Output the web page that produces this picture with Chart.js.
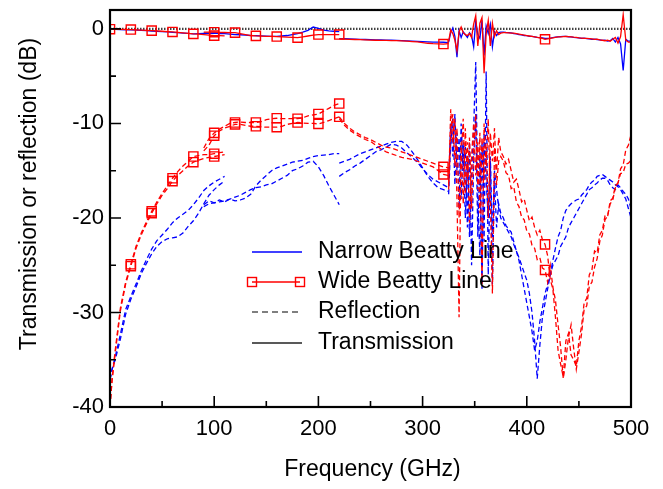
<!DOCTYPE html>
<html><head><meta charset="utf-8">
<script src="https://cdn.jsdelivr.net/npm/chart.js@4.4.1/dist/chart.umd.min.js"></script>
<style>html,body{margin:0;padding:0;background:#fff;}canvas{display:block;}</style>
</head><body>
<canvas id="c" width="663" height="489"></canvas>
<script>
// ---- tick labels ----
const xTickLabels = [0, 100, 200, 300, 400, 500];
const yTickLabels = [-40, -30, -20, -10, 0];
const xMinorTicks = [50, 150, 250, 350, 450];
const yMinorTicks = [-35, -25, -15, -5];

// ---- frequency grids (GHz) for each measurement band ----
const fA = [0,2,5,10,15,20,25,30,35,40,45,50,55,60,65,70,75,80,85,90,95,100,105,110];
const fB = [90,95,100,105,110,115,120,125,130,135,140,145,150,155,160,165,170,175,180,185,190,195,200,205,210,215,220];
const fC = [220,225,230,235,240,245,250,255,260,265,270,275,280,285,290,295,300,305,310,315,320,325];
const fD = [325,327,329,331,333,335,337,339,341,343,345,347,349,351,353,355,357,359,361,363,365,367,369,371,373,375,
  377.5,380,382.5,385,387.5,390,392.5,395,397.5,400,
  402.5,405,407.5,410,412.5,415,417.5,420,422.5,425,
  427.5,430,432.5,435,437.5,440,442.5,445,447.5,450,
  452.5,455,457.5,460,462.5,465,467.5,470,472.5,475,
  477.5,480,482.5,485,487.5,490,492.5,495,497.5,500];

// ---- Wide Beatty line: transmission (dB) ----
const wideTransA = [-0.03,-0.03,-0.04,-0.05,-0.06,-0.07,-0.10,-0.12,-0.15,-0.18,-0.21,-0.25,-0.28,-0.32,-0.36,-0.42,-0.47,-0.53,-0.55,-0.60,-0.65,-0.71,-0.72,-0.74];
const wideTransB = [-0.35,-0.35,-0.35,-0.37,-0.38,-0.39,-0.39,-0.50,-0.60,-0.70,-0.74,-0.76,-0.78,-0.80,-0.81,-0.84,-0.87,-0.90,-0.92,-0.85,-0.75,-0.65,-0.60,-0.60,-0.60,-0.60,-0.60];
const wideTransC = [-1.06,-1.08,-1.10,-1.12,-1.14,-1.16,-1.18,-1.20,-1.21,-1.22,-1.23,-1.24,-1.27,-1.30,-1.34,-1.38,-1.45,-1.52,-1.56,-1.58,-1.60,-1.55];
const wideTransD = [-1.3,-0.1,-0.5,-1.2,-2.3,-0.3,0.2,-0.4,-0.6,-0.7,-0.5,-0.9,0.5,1.4,-1.8,0.6,1.2,-4.7,-0.5,0.9,-1.8,0.6,-0.8,-0.2,-0.6,-0.45,
  -0.4,-0.4,-0.42,-0.45,-0.45,-0.5,-0.55,-0.6,-0.65,-0.7,
  -0.75,-0.8,-0.85,-0.9,-0.95,-1.0,-1.1,-1.05,-1.0,-0.95,
  -0.9,-0.85,-0.85,-0.82,-0.8,-0.82,-0.85,-0.88,-0.9,-0.95,
  -0.97,-1.0,-1.0,-1.02,-1.05,-1.1,-1.08,-1.15,-1.2,-1.25,
  -1.2,-1.3,-1.1,-0.9,-1.5,-0.8,1.5,-1.2,-1.4,-1.4];

// ---- Wide Beatty line: reflection (dB) ----
const wideReflA1 = [-40,-37,-34,-29.5,-26.8,-24.9,-23.0,-21.6,-20.4,-19.3,-18.3,-17.4,-16.6,-15.8,-15.1,-14.5,-14.0,-13.5,-13.4,-13.3,-13.3,-13.2,-13.1,-13.0];
const wideReflA2 = [-40,-37.2,-34.3,-29.8,-27.0,-25.1,-23.2,-21.8,-20.6,-19.5,-18.5,-17.6,-16.9,-16.1,-15.5,-15.0,-14.5,-14.1,-13.9,-13.7,-13.6,-13.5,-13.4,-13.3];
const wideReflB1 = [-12.6,-11.6,-11.0,-10.6,-10.3,-10.0,-9.9,-9.85,-9.9,-9.9,-9.9,-9.8,-9.6,-9.5,-9.45,-9.5,-9.5,-9.5,-9.5,-9.4,-9.2,-9.1,-9.0,-8.7,-8.4,-8.1,-7.9];
const wideReflB2 = [-12.9,-12.3,-11.3,-10.8,-10.5,-10.3,-10.1,-10.1,-10.2,-10.3,-10.3,-10.35,-10.4,-10.4,-10.4,-10.3,-10.1,-10.0,-9.9,-9.95,-10.0,-10.0,-10.05,-9.9,-9.7,-9.5,-9.3];
const wideReflC1 = [-9.3,-10.0,-10.5,-10.9,-11.2,-11.5,-11.7,-12.0,-12.3,-12.5,-12.6,-12.8,-13.0,-13.2,-13.4,-13.6,-13.8,-14.0,-14.2,-14.4,-14.6,-14.7];
const wideReflC2 = [-9.5,-10.2,-10.7,-11.1,-11.4,-11.7,-11.9,-12.3,-12.7,-13.0,-13.2,-13.4,-13.6,-13.7,-13.8,-14.0,-14.2,-14.4,-14.6,-15.0,-15.4,-15.5];
const wideReflD1 = [-16.5,-8.5,-12.0,-9.5,-18.0,-30.5,-12.0,-18.5,-10.5,-16.0,-11.5,-19.0,-13.0,-9.0,-17.0,-11.0,-27.0,-10.0,-14.5,-9.5,-18.0,-28.0,-12.5,-15.0,-11.5,-13.0,
  -13.5,-14.3,-13.8,-15.0,-16.2,-15.9,-17.0,-18.3,-18.0,-19.2,
  -20.3,-19.9,-21.0,-21.8,-21.3,-22.3,-22.8,-24.0,-26.5,-27.5,
  -30.5,-34.0,-35.5,-36.8,-33.0,-32.2,-34.5,-35.0,-35.7,-33.0,
  -31.5,-29.0,-28.5,-26.0,-25.5,-23.5,-23.7,-21.8,-21.3,-19.8,
  -19.9,-18.2,-17.9,-16.6,-16.3,-14.8,-14.4,-12.8,-12.3,-11.2];
const wideReflD2 = [-17.0,-11.0,-9.0,-14.5,-10.5,-20.0,-13.5,-9.5,-17.5,-12.0,-20.5,-13.5,-10.0,-15.5,-12.0,-19.5,-11.5,-16.0,-12.5,-20.0,-11.0,-14.0,-10.5,-16.5,-14.0,-13.5,
  -14.0,-15.2,-15.5,-16.9,-16.7,-18.3,-18.8,-19.9,-20.2,-21.4,
  -21.7,-22.9,-23.2,-24.4,-24.2,-25.3,-25.5,-26.8,-25.0,-27.3,
  -28.7,-31.3,-33.7,-37.0,-35.0,-32.6,-31.3,-33.8,-36.0,-34.2,
  -32.3,-29.7,-29.3,-27.2,-26.8,-25.2,-24.3,-22.5,-21.8,-20.2,
  -19.8,-18.5,-18.1,-16.8,-16.3,-15.3,-15.2,-14.3,-14.2,-13.9];

// ---- Narrow Beatty line: transmission (dB) ----
const narrowTransA = [-0.02,-0.03,-0.05,-0.07,-0.09,-0.11,-0.13,-0.16,-0.19,-0.22,-0.26,-0.29,-0.32,-0.36,-0.40,-0.44,-0.48,-0.52,-0.50,-0.48,-0.47,-0.46,-0.45,-0.45];
const narrowTransB = [-0.45,-0.45,-0.45,-0.50,-0.50,-0.55,-0.60,-0.62,-0.65,-0.70,-0.72,-0.74,-0.76,-0.78,-0.80,-0.75,-0.70,-0.60,-0.50,-0.35,-0.15,0.20,0.05,-0.12,-0.20,-0.25,-0.28];
const narrowTransC = [-1.02,-1.04,-1.06,-1.08,-1.10,-1.12,-1.14,-1.15,-1.17,-1.19,-1.20,-1.22,-1.24,-1.26,-1.29,-1.31,-1.34,-1.37,-1.39,-1.40,-1.41,-1.45];
const narrowTransD = [-1.4,-0.4,0.1,-0.8,-3.0,-0.2,-0.9,-0.3,-0.6,-0.9,-0.4,-0.7,-1.9,0.8,-0.6,-1.0,0.9,-2.8,0.3,-0.5,0.5,-1.9,-0.3,-0.7,-0.4,-0.35,
  -0.35,-0.38,-0.4,-0.42,-0.5,-0.52,-0.6,-0.62,-0.7,-0.72,
  -0.78,-0.8,-0.85,-0.9,-0.92,-0.95,-1.0,-1.0,-0.98,-0.92,
  -0.88,-0.85,-0.82,-0.8,-0.8,-0.83,-0.85,-0.9,-0.92,-0.95,
  -1.0,-0.98,-1.02,-1.05,-1.1,-1.08,-1.12,-1.15,-1.22,-1.2,
  -1.3,-1.25,-1.0,-1.4,-0.9,-1.6,-4.4,-1.1,-1.3,-1.3];

// ---- Narrow Beatty line: reflection (dB) ----
const narrowReflA1 = [-37.1,-36.0,-34.7,-32.3,-29.7,-28.3,-27.0,-25.6,-24.4,-23.3,-22.4,-21.8,-21.2,-20.5,-20.0,-19.6,-19.2,-18.6,-17.9,-17.1,-16.6,-16.2,-15.9,-15.6];
const narrowReflA2 = [-37.1,-36.0,-35.0,-32.8,-30.2,-28.6,-27.3,-25.9,-24.8,-23.8,-23.0,-22.5,-22.2,-22.1,-22.0,-21.6,-20.9,-20.3,-19.5,-18.5,-17.6,-17.0,-16.5,-16.1];
const narrowReflB1 = [-18.6,-18.2,-18.4,-18.1,-18.3,-18.0,-18.2,-18.1,-17.9,-17.5,-16.6,-16.0,-15.5,-15.0,-14.7,-14.5,-14.3,-14.1,-14.0,-13.9,-13.7,-13.5,-13.4,-13.35,-13.3,-13.2,-13.2];
const narrowReflB2 = [-18.8,-18.5,-18.4,-18.3,-18.2,-18.0,-17.8,-17.6,-17.3,-17.0,-16.8,-16.7,-16.5,-16.4,-16.1,-15.8,-15.5,-15.0,-14.8,-14.5,-14.1,-14.0,-14.6,-15.5,-16.6,-17.6,-18.6];
const narrowReflC1 = [-14.2,-14.0,-13.8,-13.5,-13.2,-13.0,-12.8,-12.6,-12.4,-12.2,-12.0,-11.9,-11.9,-12.3,-13.0,-13.8,-14.7,-15.6,-16.3,-16.8,-17.0,-17.2];
const narrowReflC2 = [-15.6,-15.2,-14.9,-14.5,-14.2,-13.8,-13.4,-13.0,-12.8,-12.5,-12.2,-12.3,-12.6,-13.1,-13.6,-14.1,-14.8,-15.4,-15.9,-16.2,-16.5,-16.8];
const narrowReflD1 = [-16.0,-10.0,-13.5,-9.0,-15.0,-11.5,-18.0,-12.0,-20.0,-14.0,-22.0,-15.5,-10.5,-3.5,-18.0,-24.0,-12.0,-22.5,-4.5,-26.0,-14.0,-27.0,-16.0,-21.0,-18.5,-19.5,
  -20.0,-20.8,-21.2,-21.5,-22.5,-23.5,-24.2,-25.0,-25.8,-26.6,
  -28.0,-30.0,-33.0,-37.0,-33.5,-30.5,-29.0,-27.5,-26.0,-24.5,
  -23.2,-22.0,-21.3,-20.0,-19.2,-18.8,-18.5,-18.3,-18.1,-18.0,
  -17.6,-17.3,-17.0,-16.5,-16.2,-16.0,-15.6,-15.5,-15.4,-15.6,
  -15.8,-16.0,-16.2,-16.5,-16.7,-17.0,-17.5,-18.0,-19.0,-20.0];
const narrowReflD2 = [-17.5,-12.0,-9.5,-16.5,-11.0,-19.0,-10.0,-15.0,-12.5,-21.0,-12.0,-25.0,-14.0,-9.0,-22.0,-13.0,-27.5,-11.0,-16.0,-20.0,-13.5,-22.0,-15.0,-17.0,-19.0,-20.0,
  -20.5,-21.0,-21.5,-22.0,-22.8,-23.5,-24.5,-26.0,-27.5,-29.0,
  -30.5,-32.0,-34.0,-33.0,-31.0,-29.5,-28.0,-27.0,-26.0,-25.0,
  -24.5,-24.0,-23.0,-22.5,-22.0,-21.0,-20.5,-20.0,-19.5,-19.0,
  -18.5,-18.0,-17.5,-17.0,-16.8,-16.5,-16.3,-16.0,-15.8,-15.8,
  -16.0,-16.5,-16.8,-17.0,-16.5,-16.8,-17.2,-17.5,-18.0,-19.0];

// ---- zero reference ----
const zeroF = [0, 500];
const zeroV = [0, 0];

// ---- marker positions (GHz) on Wide Beatty line curves ----
const markTransA = [0,20,40,60,80,100];
const markReflA = [20,40,60,80,100];
const markB = [100,120,140,160,180,200,220];
const markC = [320];
const markD = [417.5];

const legendLabels = ['Narrow Beatty Line', 'Wide Beatty Line', 'Reflection', 'Transmission'];

const RED = '#ff0000', BLUE = '#0000ff';
const FONT = '"Liberation Sans", Arial, sans-serif';

function ds(fs, vs, color, dashed, marks) {
  return {
    data: fs.map((f, i) => ({ x: f, y: vs[i] })),
    borderColor: color,
    borderWidth: 1.3,
    borderDash: dashed ? [5, 3] : [],
    pointStyle: 'rect',
    pointRadius: ctx => (marks && ctx.raw && marks.includes(ctx.raw.x)) ? 6.5 : 0,
    pointBorderColor: color,
    pointBackgroundColor: 'rgba(0,0,0,0)',
    pointBorderWidth: 1.4,
    pointHoverRadius: 0,
    tension: 0,
    fill: false
  };
}

const datasets = [
  ds(fA, wideTransA, RED, false, markTransA),
  ds(fB, wideTransB, RED, false, markB),
  ds(fC, wideTransC, RED, false, markC),
  ds(fD, wideTransD, RED, false, markD),
  ds(fA, wideReflA1, RED, true, markReflA),
  ds(fA, wideReflA2, RED, true, markReflA),
  ds(fB, wideReflB1, RED, true, markB),
  ds(fB, wideReflB2, RED, true, markB),
  ds(fC, wideReflC1, RED, true, markC),
  ds(fC, wideReflC2, RED, true, markC),
  ds(fD, wideReflD1, RED, true, markD),
  ds(fD, wideReflD2, RED, true, markD),
  ds(fA, narrowTransA, BLUE, false, null),
  ds(fB, narrowTransB, BLUE, false, null),
  ds(fC, narrowTransC, BLUE, false, null),
  ds(fD, narrowTransD, BLUE, false, null),
  ds(fA, narrowReflA1, BLUE, true, null),
  ds(fA, narrowReflA2, BLUE, true, null),
  ds(fB, narrowReflB1, BLUE, true, null),
  ds(fB, narrowReflB2, BLUE, true, null),
  ds(fC, narrowReflC1, BLUE, true, null),
  ds(fC, narrowReflC2, BLUE, true, null),
  ds(fD, narrowReflD1, BLUE, true, null),
  ds(fD, narrowReflD2, BLUE, true, null),
  Object.assign(ds(zeroF, zeroV, 'rgba(30,30,30,0.85)', false, null), { borderWidth: 2.4, borderDash: [1.5, 1.5] })
];

const decor = {
  id: 'decor',
  afterDraw(chart) {
    const ctx = chart.ctx, a = chart.chartArea;
    const xs = chart.scales.x, ys = chart.scales.y;
    ctx.save();
    // ticks (inward)
    ctx.strokeStyle = '#000'; ctx.lineWidth = 1.6;
    ctx.beginPath();
    xTickLabels.forEach(v => { const p = xs.getPixelForValue(v); ctx.moveTo(p, a.bottom); ctx.lineTo(p, a.bottom - 11); });
    xMinorTicks.forEach(v => { const p = xs.getPixelForValue(v); ctx.moveTo(p, a.bottom); ctx.lineTo(p, a.bottom - 6); });
    yTickLabels.forEach(v => { const p = ys.getPixelForValue(v); ctx.moveTo(a.left, p); ctx.lineTo(a.left + 11, p); });
    yMinorTicks.forEach(v => { const p = ys.getPixelForValue(v); ctx.moveTo(a.left, p); ctx.lineTo(a.left + 6, p); });
    ctx.stroke();
    // frame
    ctx.lineWidth = 2.2;
    ctx.strokeRect(a.left, a.top, a.right - a.left, a.bottom - a.top);
    // axis titles
    ctx.fillStyle = '#000';
    ctx.font = '23px ' + FONT;
    ctx.textAlign = 'center'; ctx.textBaseline = 'middle';
    ctx.fillText('Frequency (GHz)', (a.left + a.right) / 2 + 2, 470);
    ctx.save();
    ctx.translate(30, 194); ctx.rotate(-Math.PI / 2);
    ctx.fillText('Transmission or reflection (dB)', 0, 0);
    ctx.restore();
    // legend
    const rows = [252, 282, 312, 343];
    const x0 = 252, x1 = 302, tx = 318;
    ctx.textAlign = 'left';
    ctx.setLineDash([]); ctx.lineWidth = 1.4; ctx.strokeStyle = BLUE;
    ctx.beginPath(); ctx.moveTo(x0, rows[0]); ctx.lineTo(x1, rows[0]); ctx.stroke();
    ctx.strokeStyle = RED;
    ctx.beginPath(); ctx.moveTo(x0, rows[1]); ctx.lineTo(x1 - 2, rows[1]); ctx.stroke();
    ctx.strokeRect(x0 - 4.5, rows[1] - 4.5, 9, 9);
    ctx.strokeRect(x1 - 2 - 4.5, rows[1] - 4.5, 9, 9);
    ctx.strokeStyle = '#555'; ctx.setLineDash([6, 4]);
    ctx.beginPath(); ctx.moveTo(x0, rows[2]); ctx.lineTo(x1, rows[2]); ctx.stroke();
    ctx.strokeStyle = '#222'; ctx.setLineDash([]);
    ctx.beginPath(); ctx.moveTo(x0, rows[3]); ctx.lineTo(x1, rows[3]); ctx.stroke();
    ctx.fillStyle = '#000';
    legendLabels.forEach((t, i) => ctx.fillText(t, tx, rows[i]));
    ctx.restore();
  }
};

function noPad(s) { s.paddingTop = 0; s.paddingBottom = 0; s.paddingLeft = 0; s.paddingRight = 0; }

new Chart(document.getElementById('c'), {
  type: 'line',
  data: { datasets },
  options: {
    responsive: false,
    animation: false,
    events: [],
    layout: { padding: { top: 10, right: 32, left: 0, bottom: 0 } },
    plugins: { legend: { display: false }, tooltip: { enabled: false } },
    scales: {
      x: {
        type: 'linear', min: 0, max: 500,
        afterBuildTicks: s => { s.ticks = xTickLabels.map(v => ({ value: v })); },
        afterFit: s => { s.height = 82; noPad(s); },
        grid: { display: false, drawTicks: false },
        border: { display: false },
        ticks: { color: '#000', font: { family: FONT, size: 22 }, padding: 9, maxRotation: 0, autoSkip: false }
      },
      y: {
        type: 'linear', min: -40, max: 2,
        afterBuildTicks: s => { s.ticks = yTickLabels.map(v => ({ value: v })); },
        afterFit: s => { s.width = 110; noPad(s); },
        grid: { display: false, drawTicks: false },
        border: { display: false },
        ticks: { color: '#000', font: { family: FONT, size: 22 }, padding: 6, autoSkip: false }
      }
    }
  },
  plugins: [decor]
});
</script>
</body></html>
